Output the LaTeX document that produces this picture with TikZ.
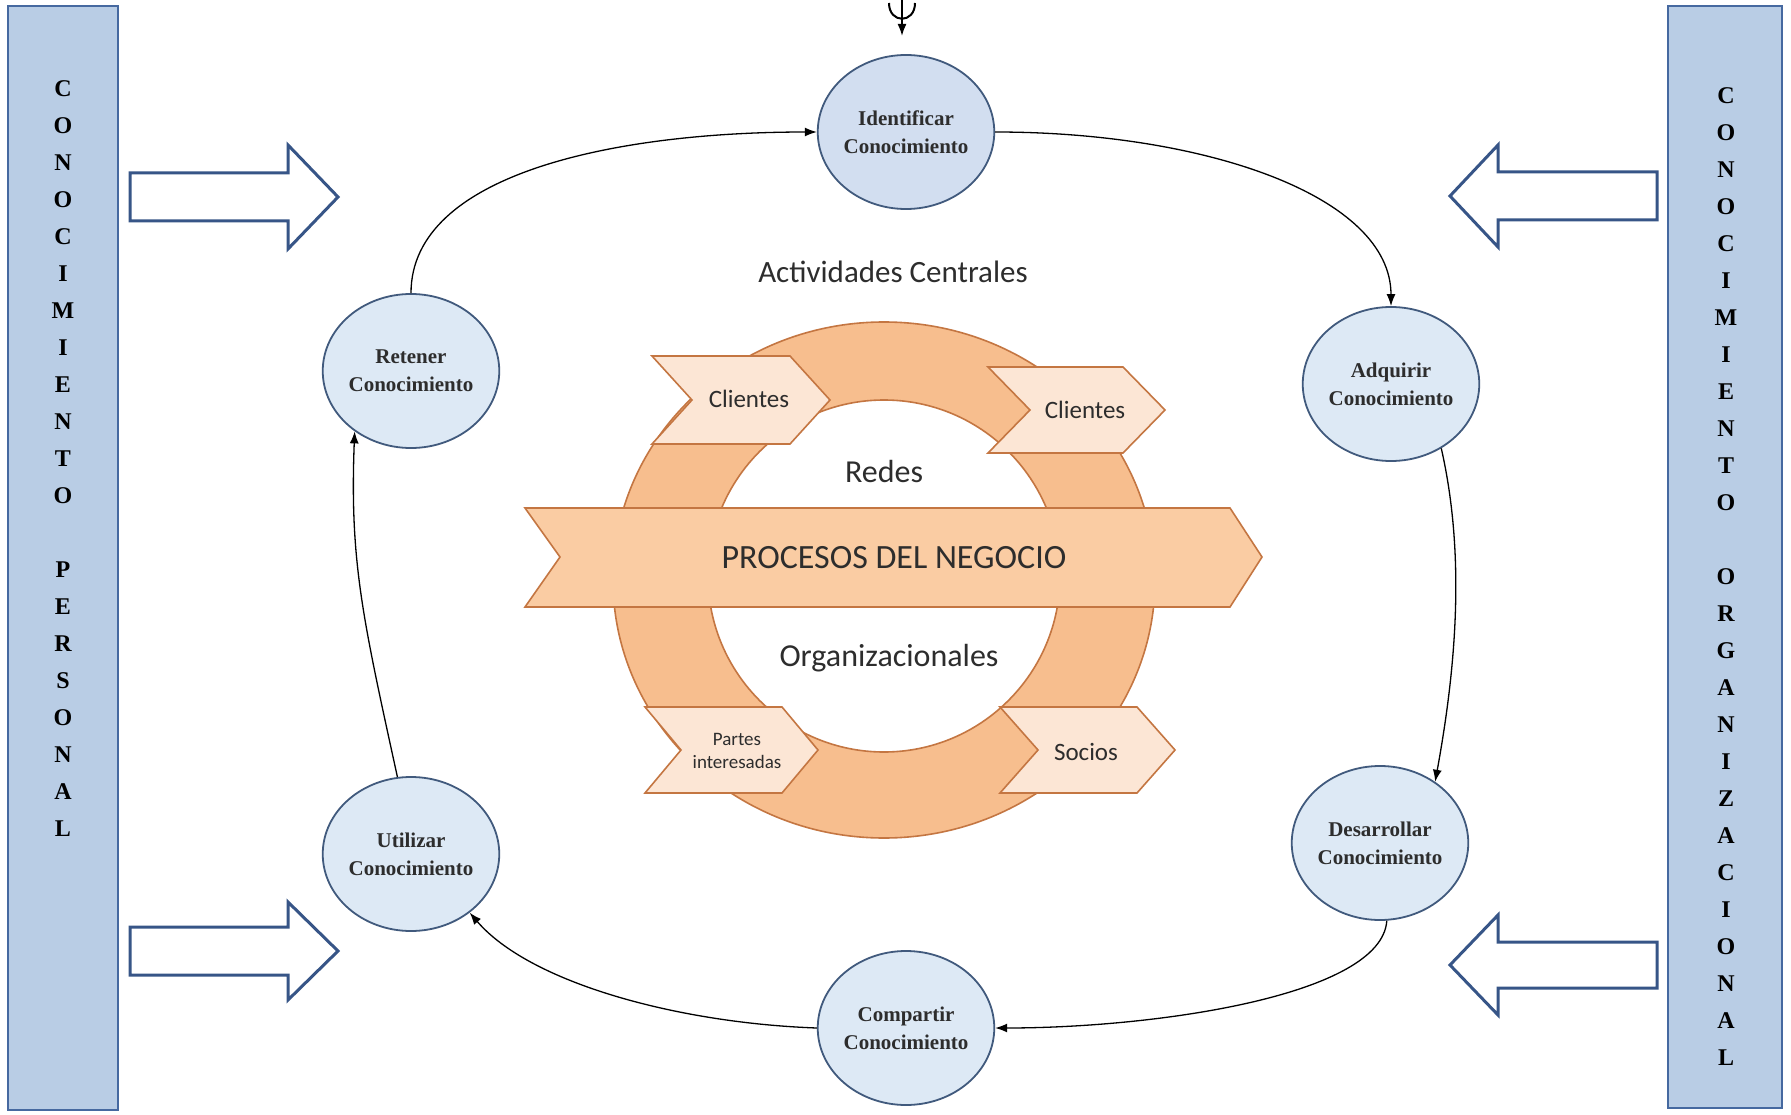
\documentclass[tikz,border=0pt]{standalone}
\usepackage{fontspec}
\setmainfont{Liberation Serif}
\newfontfamily\calib{Carlito}
\usetikzlibrary{shapes.geometric,arrows.meta}
\definecolor{barfill}{RGB}{185,205,229}
\definecolor{bardraw}{RGB}{70,105,160}
\definecolor{arrdraw}{RGB}{55,85,135}
\definecolor{cirfill}{RGB}{221,233,245}
\definecolor{cirfilltop}{RGB}{210,222,240}
\definecolor{cirdraw}{RGB}{65,90,125}
\definecolor{ringfill}{RGB}{247,190,142}
\definecolor{banfill}{RGB}{250,204,163}
\definecolor{chevfill}{RGB}{252,230,213}
\definecolor{orgdraw}{RGB}{196,118,66}
\definecolor{txtdark}{RGB}{45,45,45}
\newcommand\mychevron[5]{%
  \draw[orgshape, fill=chevfill] (#1,#2) -- ({#1+#3-#5},#2) -- ({#1+#3},{#2+#4/2})
    -- ({#1+#3-#5},{#2+#4}) -- (#1,{#2+#4}) -- ({#1+#5},{#2+#4/2}) -- cycle;}
\begin{document}
\begin{tikzpicture}[x=1pt,y=-1pt,
  barbox/.style={draw=bardraw, line width=2.5pt, fill=barfill, rectangle, inner sep=0pt},
  bartext/.style={align=center, text=black, inner sep=0pt,
    font=\fontsize{24}{37}\selectfont\bfseries},
  blockarrow/.style={draw=arrdraw, line width=3pt, fill=white, line join=miter},
  circ/.style={ellipse, draw=cirdraw, line width=1.8pt, fill=cirfill,
    minimum width=176pt, minimum height=154pt, inner sep=0pt, align=center,
    text=txtdark, font=\fontsize{21}{28}\selectfont\bfseries},
  orgshape/.style={draw=orgdraw, line width=1.6pt, line join=miter},
  orgtext/.style={text=txtdark, inner sep=0pt, align=center},
  conn/.style={draw=black, line width=1.3pt, -{Latex[length=12pt,width=9pt]}}
]
\useasboundingbox (0,0) rectangle (1791,1115);
\fill[white] (0,0) rectangle (1791,1115);

% side bars
\node[barbox, minimum width=110pt, minimum height=1104pt] (lbar) at (63,558) {};
\node[barbox, minimum width=114pt, minimum height=1102pt] (rbar) at (1725,557) {};
\node[bartext] (ltext) at (63,459) {C\\O\\N\\O\\C\\I\\M\\I\\E\\N\\T\\O\\\mbox{}\\P\\E\\R\\S\\O\\N\\A\\L};
\node[bartext] (rtext) at (1726,577) {C\\O\\N\\O\\C\\I\\M\\I\\E\\N\\T\\O\\\mbox{}\\O\\R\\G\\A\\N\\I\\Z\\A\\C\\I\\O\\N\\A\\L};

% block arrows
\draw[blockarrow] (130,173) -- (288,173) -- (288,145) -- (338,197) -- (288,249) -- (288,221) -- (130,221) -- cycle;
\draw[blockarrow] (130,927) -- (288,927) -- (288,902) -- (338,951) -- (288,1000) -- (288,975) -- (130,975) -- cycle;
\draw[blockarrow] (1657,172) -- (1498,172) -- (1498,145) -- (1450,196) -- (1498,247) -- (1498,220) -- (1657,220) -- cycle;
\draw[blockarrow] (1657,942) -- (1498,942) -- (1498,915) -- (1450,965) -- (1498,1015) -- (1498,988) -- (1657,988) -- cycle;

% ring
\fill[ringfill, even odd rule] (884,580) ellipse [x radius=271, y radius=258] (884,576) circle [radius=176];
\draw[orgdraw, line width=1.6pt] (884,580) ellipse [x radius=271, y radius=258];
\draw[orgdraw, line width=1.6pt] (884,576) circle [radius=176];

% chevrons
\mychevron{652}{356}{178}{88}{40}
\mychevron{988}{367}{177}{86}{42}
\mychevron{645}{707}{173}{86}{36}
\mychevron{1000}{707}{175}{86}{38}
\node[orgtext, font=\calib\fontsize{25}{28}\selectfont] (cl1) at (749,399) {Clientes};
\node[orgtext, font=\calib\fontsize{25}{28}\selectfont] (cl2) at (1085,410) {Clientes};
\node[orgtext, font=\calib\fontsize{19}{23}\selectfont] (partes) at (737,751) {Partes\\interesadas};
\node[orgtext, font=\calib\fontsize{25}{28}\selectfont] (socios) at (1086,752) {Socios};

% banner
\draw[orgshape, fill=banfill] (525,508) -- (1230,508) -- (1262,557) -- (1230,607) -- (525,607) -- (560,557) -- cycle;
\node[orgtext, font=\calib\fontsize{34}{38}\selectfont] (proc) at (894,558) {PROCESOS DEL NEGOCIO};

\node[orgtext, font=\calib\fontsize{32}{36}\selectfont] (redes) at (884,472) {Redes};
\node[orgtext, font=\calib\fontsize{32}{36}\selectfont] (orgs) at (889,658) {Organizacionales};
\node[orgtext, font=\calib\fontsize{31}{34}\selectfont] (act) at (893,272) {Actividades Centrales};

% circles
\node[circ, fill=cirfilltop] (ide) at (906,132) {Identificar\\Conocimiento};
\node[circ] (adq) at (1391,384) {Adquirir\\Conocimiento};
\node[circ] (des) at (1380,843) {Desarrollar\\Conocimiento};
\node[circ] (com) at (906,1028) {Compartir\\Conocimiento};
\node[circ] (uti) at (411,854) {Utilizar\\Conocimiento};
\node[circ] (ret) at (411,371) {Retener\\Conocimiento};

% connectors
\draw[conn] (ret.north) .. controls +(0,-120) and +(-200,0) .. (ide.west);
\draw[conn] (ide.east) .. controls +(210,0) and +(0,-110) .. (adq.north);
\draw[conn] (adq.-52) .. controls +(25,110) and +(20,-110) .. (des.48);
\draw[conn] (des.-85) .. controls +(-5,75) and +(160,0) .. (com.east);
\draw[conn] (com.west) .. controls +(-140,-5) and +(60,70) .. (uti.-45);
\draw[conn] (uti.100) .. controls +(-35,-160) and +(-5,130) .. (ret.-133);

% small arrow on top
\coordinate (topin) at (902,0);
\coordinate (topend) at (902,36);
\draw[conn, line width=1.8pt] (topin) -- (topend);
\draw[black, line width=2pt] (889,3) .. controls (889,24) and (915,24) .. (915,3);
\end{tikzpicture}
\end{document}
